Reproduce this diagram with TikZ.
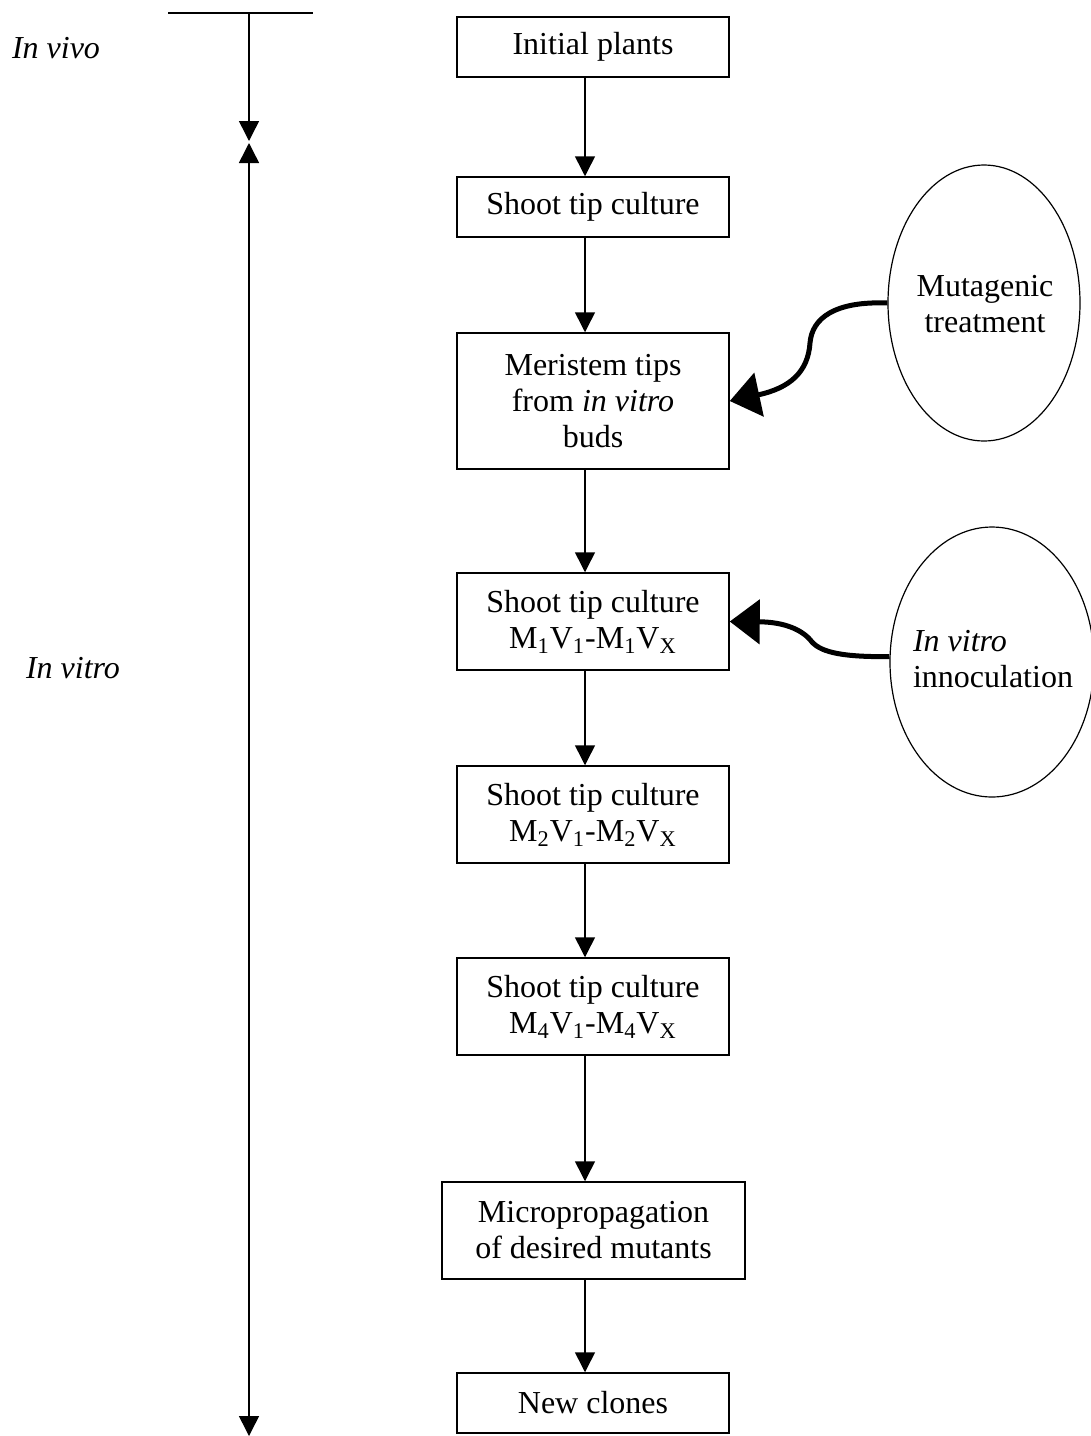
\documentclass[tikz,border=0pt]{standalone}
\usepackage{fontspec}
\setmainfont{Liberation Serif}
\usetikzlibrary{arrows.meta,shapes.geometric}
\begin{document}
\begin{tikzpicture}[x=0.5pt,y=-0.5pt,
  every node/.style={font=\fontsize{16}{18}\selectfont},
  box/.style={draw, line width=0.75pt, inner sep=0pt, align=center, minimum width=136pt},
  flow/.style={line width=0.75pt, -{Triangle[length=10pt,width=10pt]}},
  flowboth/.style={line width=0.75pt, {Triangle[length=10pt,width=10pt]}-{Triangle[length=10pt,width=10pt]}},
  bigarrow/.style={line width=2.5pt, -{Triangle[length=15pt,width=22pt]}},
  oval/.style={draw, ellipse, line width=0.6pt, inner sep=0pt}]
\useasboundingbox (0,0) rectangle (1091,1436);

% main boxes
\node[box, minimum height=30pt] (init) at (593,47) {Initial plants};
\node[box, minimum height=30pt] (sht) at (593,207) {Shoot tip culture};
\node[box, minimum height=68pt] (mer) at (593,401) {Meristem tips\\from \textit{in vitro}\\buds};
\node[box, minimum height=48.5pt] (m1) at (593,621.5) {Shoot tip culture\\M\textsubscript{1}V\textsubscript{1}-M\textsubscript{1}V\textsubscript{X}};
\node[box, minimum height=48.5pt] (m2) at (593,814.5) {Shoot tip culture\\M\textsubscript{2}V\textsubscript{1}-M\textsubscript{2}V\textsubscript{X}};
\node[box, minimum height=48.5pt] (m4) at (593,1006.5) {Shoot tip culture\\M\textsubscript{4}V\textsubscript{1}-M\textsubscript{4}V\textsubscript{X}};
\node[box, minimum width=151.5pt, minimum height=48.5pt] (micro) at (593.5,1230.5) {Micropropagation\\of desired mutants};
\node[box, minimum height=30pt] (newc) at (593,1403) {New clones};

% arrow axis
\coordinate (ax) at (585,0);
\draw[flow] (init.south -| ax) -- (sht.north -| ax);
\draw[flow] (sht.south -| ax) -- (mer.north -| ax);
\draw[flow] (mer.south -| ax) -- (m1.north -| ax);
\draw[flow] (m1.south -| ax) -- (m2.north -| ax);
\draw[flow] (m2.south -| ax) -- (m4.north -| ax);
\draw[flow] (m4.south -| ax) -- (micro.north -| ax);
\draw[flow] (micro.south -| ax) -- (newc.north -| ax);

% ellipses
\node[oval, minimum width=96pt, minimum height=138pt] (mut) at (984,303) {};
\node[align=center] (mutt) at (985,304) {Mutagenic\\treatment};
\node[oval, minimum width=102pt, minimum height=135pt] (inv) at (992,662) {};
\node[align=left] (invt) at (993,659) {\textit{In vitro}\\innoculation};

% curved arrows
\draw[bigarrow] (mut.west) .. controls (835,301) and (812,318) .. (810,343)
  .. controls (808,372) and (790,388) .. (mer.east);
\draw[bigarrow] (inv.177) .. controls (845,657) and (822,653) .. (812,642)
  .. controls (803,630) and (785,622) .. (m1.east);

% timeline
\coordinate (tl) at (168,13);
\coordinate (tr) at (313,13);
\coordinate (tt) at (249,13);
\coordinate (t1) at (249,141);
\coordinate (t2) at (249,143);
\coordinate (tb) at (249,1436);
\draw[line width=0.75pt] (tl) -- (tr);
\draw[flow] (tt) -- (t1);
\draw[flowboth] (t2) -- (tb);

\node (vivo) at (56,48) {\textit{In vivo}};
\node (vitro) at (73,668) {\textit{In vitro}};
\end{tikzpicture}
\end{document}
